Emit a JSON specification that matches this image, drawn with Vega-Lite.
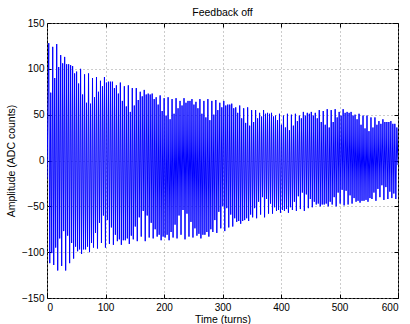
{
  "$schema": "https://vega.github.io/schema/vega-lite/v6.json",
  "width": 351,
  "height": 275,
  "autosize": {"type": "none"},
  "padding": {"left": 47, "top": 23, "right": 12, "bottom": 26},
  "background": "white",
  "config": {
    "font": "Liberation Sans",
    "view": {"stroke": "#000000", "strokeWidth": 1},
    "axis": {
      "domain": false,
      "tickColor": "#000000",
      "tickSize": -4,
      "labelColor": "#000000",
      "labelFontSize": 10,
      "titleFontSize": 10.5,
      "titleFontWeight": "normal",
      "titleColor": "#000000",
      "gridColor": "#999999",
      "gridDash": [1, 3],
      "gridWidth": 1
    }
  },
  "title": {"text": "Feedback off", "fontSize": 10.5, "fontWeight": "normal", "color": "#000000", "offset": 0},
  "data": {"values": [
    {"t":0,"a":-20},
    {"t":3,"a":128},{"t":4.7,"a":-112},{"t":6.4,"a":74},{"t":8.1,"a":-101},
    {"t":9.8,"a":124},{"t":11.5,"a":-114},{"t":13.2,"a":90},{"t":14.9,"a":-95},
    {"t":16.6,"a":127},{"t":18.3,"a":-120},{"t":20,"a":102},{"t":21.7,"a":-85},
    {"t":23.4,"a":115},{"t":25.1,"a":-115},{"t":26.8,"a":106},{"t":28.5,"a":-77},
    {"t":30.2,"a":113},{"t":31.9,"a":-120},{"t":33.6,"a":105},{"t":35.3,"a":-82},
    {"t":37,"a":105},{"t":38.7,"a":-112},{"t":40.4,"a":104},{"t":42.1,"a":-90},
    {"t":43.8,"a":103},{"t":45.5,"a":-107},{"t":47.2,"a":95},{"t":48.9,"a":-94},
    {"t":50.6,"a":97},{"t":52.3,"a":-99},{"t":54,"a":84},{"t":55.7,"a":-97},
    {"t":57.4,"a":100},{"t":59.1,"a":-102},{"t":60.8,"a":72},{"t":62.5,"a":-97},
    {"t":64.2,"a":94},{"t":65.9,"a":-97},{"t":67.6,"a":63},{"t":69.3,"a":-94},
    {"t":71,"a":95},{"t":72.7,"a":-100},{"t":74.4,"a":62},{"t":76.1,"a":-90},
    {"t":77.8,"a":90},{"t":79.5,"a":-95},{"t":81.2,"a":69},{"t":82.9,"a":-79},
    {"t":84.6,"a":91},{"t":86.3,"a":-96},{"t":88,"a":75},{"t":89.7,"a":-68},
    {"t":91.4,"a":87},{"t":93.1,"a":-90},{"t":94.8,"a":81},{"t":96.5,"a":-60},
    {"t":98.2,"a":91},{"t":99.9,"a":-95},{"t":101.6,"a":85},{"t":103.3,"a":-65},
    {"t":105,"a":86},{"t":106.7,"a":-91},{"t":108.4,"a":86},{"t":110.1,"a":-73},
    {"t":111.8,"a":86},{"t":113.5,"a":-92},{"t":115.2,"a":79},{"t":116.9,"a":-81},
    {"t":118.6,"a":82},{"t":120.3,"a":-88},{"t":122,"a":73},{"t":123.7,"a":-86},
    {"t":125.4,"a":85},{"t":127.1,"a":-92},{"t":128.8,"a":65},{"t":130.5,"a":-87},
    {"t":132.2,"a":81},{"t":133.9,"a":-87},{"t":135.6,"a":59},{"t":137.3,"a":-85},
    {"t":139,"a":82},{"t":140.7,"a":-91},{"t":142.4,"a":53},{"t":144.1,"a":-82},
    {"t":145.8,"a":79},{"t":147.5,"a":-86},{"t":149.2,"a":60},{"t":150.9,"a":-72},
    {"t":152.6,"a":79},{"t":154.3,"a":-88},{"t":156,"a":66},{"t":157.7,"a":-62},
    {"t":159.4,"a":75},{"t":161.1,"a":-83},{"t":162.8,"a":70},{"t":164.5,"a":-55},
    {"t":166.2,"a":77},{"t":167.9,"a":-88},{"t":169.6,"a":72},{"t":171.3,"a":-60},
    {"t":173,"a":73},{"t":174.7,"a":-84},{"t":176.4,"a":72},{"t":178.1,"a":-68},
    {"t":179.8,"a":73},{"t":181.5,"a":-85},{"t":183.2,"a":67},{"t":184.9,"a":-75},
    {"t":186.6,"a":69},{"t":188.3,"a":-83},{"t":190,"a":61},{"t":191.7,"a":-81},
    {"t":193.4,"a":71},{"t":195.1,"a":-87},{"t":196.8,"a":54},{"t":198.5,"a":-83},
    {"t":200.2,"a":68},{"t":201.9,"a":-84},{"t":203.6,"a":49},{"t":205.3,"a":-81},
    {"t":207,"a":69},{"t":208.7,"a":-87},{"t":210.4,"a":45},{"t":212.1,"a":-78},
    {"t":213.8,"a":67},{"t":215.5,"a":-84},{"t":217.2,"a":51},{"t":218.9,"a":-70},
    {"t":220.6,"a":68},{"t":222.3,"a":-85},{"t":224,"a":57},{"t":225.7,"a":-60},
    {"t":227.4,"a":65},{"t":229.1,"a":-81},{"t":230.8,"a":60},{"t":232.5,"a":-54},
    {"t":234.2,"a":68},{"t":235.9,"a":-86},{"t":237.6,"a":63},{"t":239.3,"a":-58},
    {"t":241,"a":65},{"t":242.7,"a":-83},{"t":244.4,"a":65},{"t":246.1,"a":-67},
    {"t":247.8,"a":67},{"t":249.5,"a":-84},{"t":251.2,"a":61},{"t":252.9,"a":-74},
    {"t":254.6,"a":64},{"t":256.3,"a":-82},{"t":258,"a":57},{"t":259.7,"a":-80},
    {"t":261.4,"a":67},{"t":263.1,"a":-85},{"t":264.8,"a":51},{"t":266.5,"a":-81},
    {"t":268.2,"a":65},{"t":269.9,"a":-81},{"t":271.6,"a":47},{"t":273.3,"a":-78},
    {"t":275,"a":67},{"t":276.7,"a":-83},{"t":278.4,"a":44},{"t":280.1,"a":-75},
    {"t":281.8,"a":65},{"t":283.5,"a":-78},{"t":285.2,"a":50},{"t":286.9,"a":-65},
    {"t":288.6,"a":66},{"t":290.3,"a":-79},{"t":292,"a":55},{"t":293.7,"a":-56},
    {"t":295.4,"a":63},{"t":297.1,"a":-74},{"t":298.8,"a":58},{"t":300.5,"a":-50},
    {"t":302.2,"a":65},{"t":303.9,"a":-77},{"t":305.6,"a":60},{"t":307.3,"a":-52},
    {"t":309,"a":61},{"t":310.7,"a":-73},{"t":312.4,"a":61},{"t":314.1,"a":-59},
    {"t":315.8,"a":62},{"t":317.5,"a":-72},{"t":319.2,"a":57},{"t":320.9,"a":-63},
    {"t":322.6,"a":58},{"t":324.3,"a":-67},{"t":326,"a":52},{"t":327.7,"a":-66},
    {"t":329.4,"a":60},{"t":331.1,"a":-69},{"t":332.8,"a":46},{"t":334.5,"a":-66},
    {"t":336.2,"a":57},{"t":337.9,"a":-65},{"t":339.6,"a":41},{"t":341.3,"a":-63},
    {"t":343,"a":58},{"t":344.7,"a":-66},{"t":346.4,"a":38},{"t":348.1,"a":-59},
    {"t":349.8,"a":55},{"t":351.5,"a":-62},{"t":353.2,"a":42},{"t":354.9,"a":-52},
    {"t":356.6,"a":55},{"t":358.3,"a":-63},{"t":360,"a":46},{"t":361.7,"a":-45},
    {"t":363.4,"a":52},{"t":365.1,"a":-59},{"t":366.8,"a":48},{"t":368.5,"a":-40},
    {"t":370.2,"a":55},{"t":371.9,"a":-62},{"t":373.6,"a":51},{"t":375.3,"a":-42},
    {"t":377,"a":52},{"t":378.7,"a":-58},{"t":380.4,"a":51},{"t":382.1,"a":-47},
    {"t":383.8,"a":52},{"t":385.5,"a":-58},{"t":387.2,"a":48},{"t":388.9,"a":-51},
    {"t":390.6,"a":49},{"t":392.3,"a":-55},{"t":394,"a":44},{"t":395.7,"a":-54},
    {"t":397.4,"a":51},{"t":399.1,"a":-57},{"t":400.8,"a":39},{"t":402.5,"a":-54},
    {"t":404.2,"a":49},{"t":405.9,"a":-55},{"t":407.6,"a":36},{"t":409.3,"a":-53},
    {"t":411,"a":51},{"t":412.7,"a":-57},{"t":414.4,"a":33},{"t":416.1,"a":-51},
    {"t":417.8,"a":50},{"t":419.5,"a":-54},{"t":421.2,"a":38},{"t":422.9,"a":-45},
    {"t":424.6,"a":51},{"t":426.3,"a":-55},{"t":428,"a":43},{"t":429.7,"a":-39},
    {"t":431.4,"a":49},{"t":433.1,"a":-53},{"t":434.8,"a":46},{"t":436.5,"a":-35},
    {"t":438.2,"a":53},{"t":439.9,"a":-55},{"t":441.6,"a":49},{"t":443.3,"a":-37},
    {"t":445,"a":52},{"t":446.7,"a":-52},{"t":448.4,"a":51},{"t":450.1,"a":-42},
    {"t":451.8,"a":53},{"t":453.5,"a":-51},{"t":455.2,"a":49},{"t":456.9,"a":-45},
    {"t":458.6,"a":52},{"t":460.3,"a":-48},{"t":462,"a":46},{"t":463.7,"a":-47},
    {"t":465.4,"a":55},{"t":467.1,"a":-50},{"t":468.8,"a":42},{"t":470.5,"a":-48},
    {"t":472.2,"a":54},{"t":473.9,"a":-48},{"t":475.6,"a":39},{"t":477.3,"a":-47},
    {"t":479,"a":56},{"t":480.7,"a":-50},{"t":482.4,"a":36},{"t":484.1,"a":-45},
    {"t":485.8,"a":55},{"t":487.5,"a":-48},{"t":489.2,"a":42},{"t":490.9,"a":-40},
    {"t":492.6,"a":56},{"t":494.3,"a":-50},{"t":496,"a":47},{"t":497.7,"a":-35},
    {"t":499.4,"a":53},{"t":501.1,"a":-47},{"t":502.8,"a":49},{"t":504.5,"a":-32},
    {"t":506.2,"a":56},{"t":507.9,"a":-49},{"t":509.6,"a":52},{"t":511.3,"a":-33},
    {"t":513,"a":53},{"t":514.7,"a":-48},{"t":516.4,"a":52},{"t":518.1,"a":-38},
    {"t":519.8,"a":53},{"t":521.5,"a":-47},{"t":523.2,"a":49},{"t":524.9,"a":-41},
    {"t":526.6,"a":50},{"t":528.3,"a":-45},{"t":530,"a":45},{"t":531.7,"a":-44},
    {"t":533.4,"a":51},{"t":535.1,"a":-46},{"t":536.8,"a":39},{"t":538.5,"a":-44},
    {"t":540.2,"a":49},{"t":541.9,"a":-44},{"t":543.6,"a":35},{"t":545.3,"a":-43},
    {"t":547,"a":49},{"t":548.7,"a":-45},{"t":550.4,"a":32},{"t":552.1,"a":-41},
    {"t":553.8,"a":47},{"t":555.5,"a":-42},{"t":557.2,"a":36},{"t":558.9,"a":-35},
    {"t":560.6,"a":47},{"t":562.3,"a":-44},{"t":564,"a":39},{"t":565.7,"a":-31},
    {"t":567.4,"a":43},{"t":569.1,"a":-40},{"t":570.8,"a":40},{"t":572.5,"a":-27},
    {"t":574.2,"a":45},{"t":575.9,"a":-43},{"t":577.6,"a":42},{"t":579.3,"a":-29},
    {"t":581,"a":42},{"t":582.7,"a":-42},{"t":584.4,"a":42},{"t":586.1,"a":-34},
    {"t":587.8,"a":43},{"t":589.5,"a":-41},{"t":591.2,"a":40},{"t":592.9,"a":-36},
    {"t":594.6,"a":40},{"t":596.3,"a":-42},{"t":598,"a":36},{"t":600,"a":-5}
  ]},
  "layer": [
    {
      "mark": {"type": "line", "color": "#0000ff", "strokeWidth": 1, "clip": true},
      "encoding": {
        "x": {"field": "t", "type": "quantitative", "scale": {"domain": [0, 600], "nice": false},
              "axis": {"orient": "bottom", "values": [0,100,200,300,400,500,600], "title": "Time (turns)", "labelPadding": 8, "titlePadding": 2, "grid": true}},
        "y": {"field": "a", "type": "quantitative", "scale": {"domain": [-150, 150], "nice": false},
              "axis": {"orient": "left", "values": [-150,-100,-50,0,50,100,150], "title": "Amplitude (ADC counts)", "labelPadding": 7, "titlePadding": 5, "grid": true}}
      }
    },
    {
      "mark": {"type": "point", "opacity": 0},
      "encoding": {
        "x": {"field": "t", "type": "quantitative", "scale": {"domain": [0, 600], "nice": false},
              "axis": {"orient": "top", "values": [0,100,200,300,400,500,600], "labels": false, "title": null, "grid": false}},
        "y": {"field": "a", "type": "quantitative", "scale": {"domain": [-150, 150], "nice": false},
              "axis": {"orient": "right", "values": [-150,-100,-50,0,50,100,150], "labels": false, "title": null, "grid": false}}
      }
    }
  ],
  "resolve": {"axis": {"x": "independent", "y": "independent"}}
}
